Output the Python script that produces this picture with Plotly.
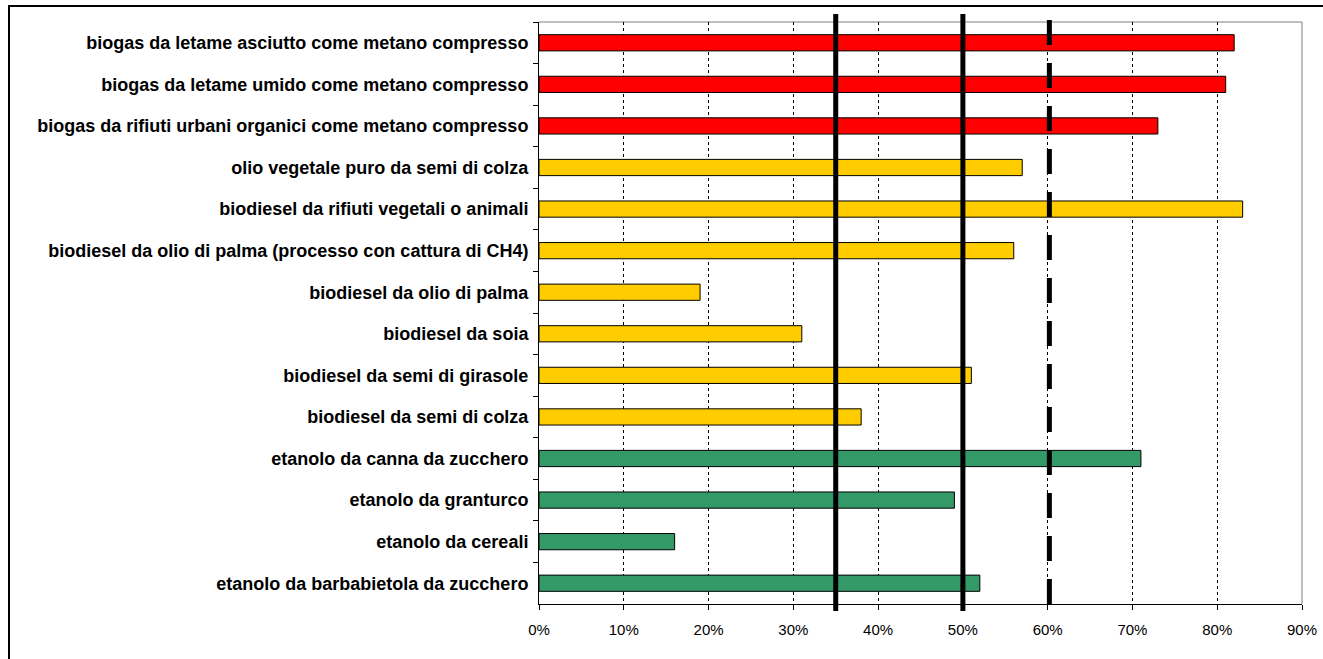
import plotly.graph_objects as go

categories = [
    "biogas da letame asciutto come metano compresso",
    "biogas da letame umido come metano compresso",
    "biogas da rifiuti urbani organici come metano compresso",
    "olio vegetale puro da semi di colza",
    "biodiesel da rifiuti vegetali o animali",
    "biodiesel da olio di palma (processo con cattura di CH4)",
    "biodiesel da olio di palma",
    "biodiesel da soia",
    "biodiesel da semi di girasole",
    "biodiesel da semi di colza",
    "etanolo da canna da zucchero",
    "etanolo da granturco",
    "etanolo da cereali",
    "etanolo da barbabietola da zucchero",
]
values = [0.82, 0.81, 0.73, 0.57, 0.83, 0.56, 0.19, 0.31, 0.51, 0.38, 0.71, 0.49, 0.16, 0.52]
groups = ["biogas"] * 3 + ["biodiesel"] * 7 + ["etanolo"] * 4
group_colors = {"biogas": "#FF0000", "biodiesel": "#FFCC00", "etanolo": "#339966"}
thresholds_solid = [0.35, 0.50]
threshold_dashed = 0.60

W, H = 1323, 659
L, R, T, B = 539, 21, 22, 55
pw, ph = W - L - R, H - T - B

def px2x(px):
    return (px - L) / pw

def px2y(py):
    return (H - B - py) / ph

fig = go.Figure()
fig.add_trace(go.Bar(
    y=categories, x=values, orientation="h",
    marker=dict(color=[group_colors[g] for g in groups], line=dict(color="black", width=1)),
    width=0.39, showlegend=False,
))

shapes = []
for t in thresholds_solid:
    shapes.append(dict(type="line", xref="x", yref="paper", x0=t, x1=t,
                       y0=px2y(611), y1=px2y(14), line=dict(color="black", width=5), layer="above"))
shapes.append(dict(type="line", xref="x", yref="paper", x0=threshold_dashed + 0.002, x1=threshold_dashed + 0.002,
                   y0=px2y(604), y1=px2y(15), line=dict(color="black", width=5, dash="25px,18px"), layer="above"))
# gray plot frame top/right
shapes.append(dict(type="line", xref="paper", yref="paper", x0=0, x1=1, y0=1, y1=1,
                   line=dict(color="#808080", width=1), layer="below"))
shapes.append(dict(type="line", xref="paper", yref="paper", x0=1, x1=1, y0=0, y1=1,
                   line=dict(color="#808080", width=1), layer="below"))
# outer black border
shapes.append(dict(type="rect", xref="paper", yref="paper", x0=px2x(9), x1=px2x(1330),
                   y0=px2y(670), y1=px2y(6), line=dict(color="black", width=2), fillcolor="rgba(0,0,0,0)"))

fig.update_layout(
    width=W, height=H, autosize=False,
    margin=dict(l=L, r=R, t=T, b=B, pad=0),
    paper_bgcolor="white", plot_bgcolor="white",
    font=dict(family="Liberation Sans, Arial, sans-serif", color="black"),
    shapes=shapes,
)
fig.update_xaxes(
    range=[0, 0.9], dtick=0.1, tickformat=".0%",
    showgrid=True, gridcolor="black", gridwidth=1, griddash="dot",
    showline=True, linecolor="black", linewidth=1,
    ticks="outside", ticklen=5, tickcolor="black",
    ticklabelstandoff=7,
    tickfont=dict(size=15), zeroline=False, automargin=False,
)
fig.update_yaxes(
    autorange="reversed", showgrid=False,
    showline=True, linecolor="black", linewidth=1,
    ticks="outside", ticklen=5, tickcolor="black", tickson="boundaries",
    ticklabelstandoff=6, automargin=False,
    tickfont=dict(size=18, family="Liberation Sans, Arial, sans-serif", weight="bold"),
)

fig.write_html("out.html")
